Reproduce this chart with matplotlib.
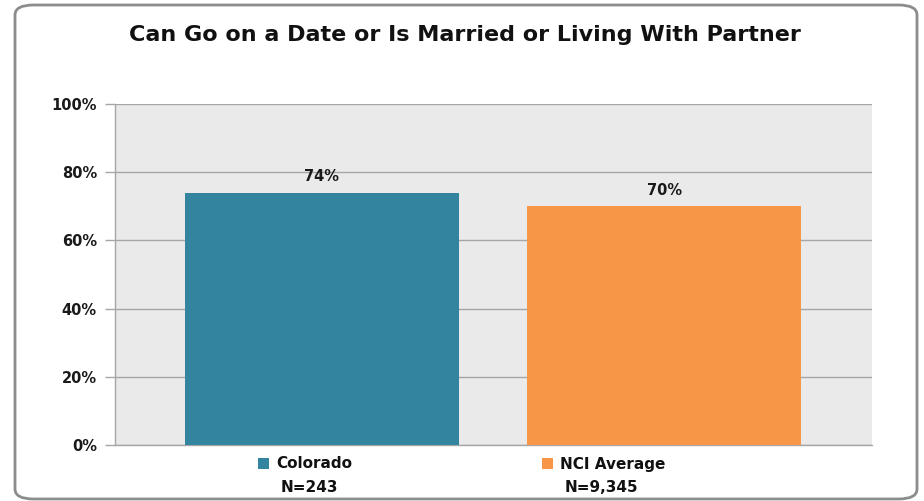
import numpy as np
import matplotlib
matplotlib.use('Agg')
import matplotlib.pyplot as plt
from matplotlib.patches import FancyBboxPatch, Rectangle
from matplotlib.ticker import MultipleLocator, FuncFormatter

# data
groups = ['Colorado', 'NCI Average']
counts = ['N=243', 'N=9,345']
values = [74, 70]
colors = ['#33849E', '#F79646']

W, H = 924, 501
fig = plt.figure(figsize=(W/100., H/100.), dpi=100)

# rounded frame around the whole chart
frame = FancyBboxPatch((15./W, 2./H), (902./W), 1 - 7./H,
                       boxstyle='round,pad=0,rounding_size=0.02',
                       transform=fig.transFigure, fc='white', ec='#8C8C8C', lw=2.0,
                       zorder=-5)
fig.patches.append(frame)

ax = fig.add_axes([115./W, 1-445./H, (872.-115.)/W, (445.-104.)/H])
ax.set_facecolor('#EAEAEA')

x = np.arange(len(groups))
ax.bar(x, values, width=0.8, color=colors, zorder=3)
for xi, v in zip(x, values):
    ax.annotate('%d%%' % v, (xi, v), xytext=(0, 6), textcoords='offset points',
                ha='center', va='bottom', fontsize=10.5, fontweight='bold', color='#1A1A1A')

ax.set_xlim(-0.604, 1.606)
ax.set_ylim(0, 100)
ax.yaxis.set_major_locator(MultipleLocator(20))
ax.yaxis.set_major_formatter(FuncFormatter(lambda v, p: '%d%%' % v))
ax.grid(axis='y', color='#A6A6A6', lw=1.0, zorder=1)
ax.set_xticks([])
ax.tick_params(axis='y', length=7, width=1.0, color='#A6A6A6', pad=6,
               labelsize=10.5, labelcolor='#1A1A1A')
for lab in ax.get_yticklabels():
    lab.set_fontweight('bold')
for s in ['top', 'right']:
    ax.spines[s].set_visible(False)
for s in ['left', 'bottom']:
    ax.spines[s].set_color('#A6A6A6')
    ax.spines[s].set_linewidth(1.0)

fig.text(465./W, 1-35./H, 'Can Go on a Date or Is Married or Living With Partner',
         ha='center', va='center', fontsize=16, fontweight='bold', color='#111111')

# legend boxes under the bars
leg_x = [258, 542]
for lx, g, n, c in zip(leg_x, groups, counts, colors):
    fig.patches.append(Rectangle((lx/float(W), 1-469./H), 11./W, 11./H,
                                 transform=fig.transFigure, fc=c, ec='none'))
    fig.text((lx+18.)/W, 1-464./H, g, ha='left', va='center', fontsize=11,
             fontweight='bold', color='#111111')
    fig.text((lx+23.)/W, 1-487./H, n, ha='left', va='center', fontsize=11,
             fontweight='bold', color='#111111')

plt.savefig('out.png', dpi=100)
